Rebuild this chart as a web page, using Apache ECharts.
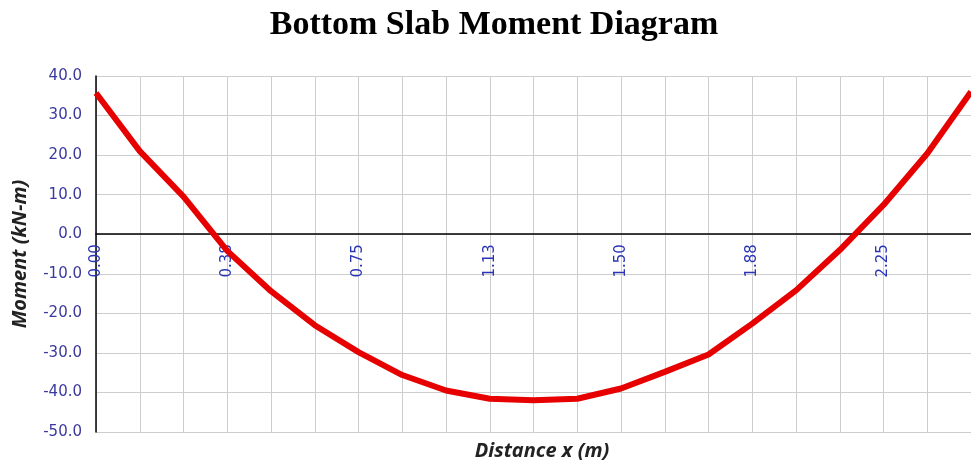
<!DOCTYPE html>
<html>
<head>
<meta charset="utf-8">
<script src="https://cdn.jsdelivr.net/npm/echarts@6/dist/echarts.min.js"></script>
<style>
  html, body { margin: 0; padding: 0; background: #fff; }
  #myChart { width: 971px; height: 468px; }
</style>
</head>
<body>
<div id="myChart"></div>
<script>
// distance along slab (m) and bending moment (kN-m)
var distance = [0, 0.125, 0.25, 0.375, 0.5, 0.625, 0.75, 0.875, 1.0, 1.125, 1.25,
                1.375, 1.5, 1.625, 1.75, 1.875, 2.0, 2.125, 2.25, 2.375, 2.5]
var moment = [35.7, 21.0, 9.5, -4.2, -14.4, -23.0, -29.8, -35.6, -39.5, -41.6, -42.0,
              -41.6, -39.0, -34.8, -30.4, -22.6, -14.2, -4.0, 7.4, 20.4, 36.0]
var xTickLabels = ['0.00', '0.38', '0.75', '1.13', '1.50', '1.88', '2.25']

var points = distance.map(function (d, i) { return [d, moment[i]] })

var gridTop = 76, gridBottom = 36, chartH = 468
var yMin = -50, yMax = 40
// shift the x axis (line + labels) up to the zero line
var zeroY = gridTop + (yMax / (yMax - yMin)) * (chartH - gridTop - gridBottom)
var xAxisOffset = -((chartH - gridBottom) - zeroY)

var myChart = echarts.init(document.getElementById('myChart'))
myChart.setOption({
    animation: false,
    backgroundColor: '#fff',
    title: [{
        text: 'Bottom Slab Moment Diagram',
        left: 489,
        top: 3,
        textAlign: 'center',
        textStyle: { fontFamily: 'Liberation Serif', fontWeight: 'bold', fontSize: 34, color: '#000' }
    }, {
        text: 'Distance x (m)',
        left: 537,
        top: 436,
        textAlign: 'center',
        textStyle: { fontFamily: 'Open Sans', fontWeight: 'bold', fontStyle: 'italic', fontSize: 20, color: '#222' }
    }],
    grid: { left: 96, right: -9, top: gridTop, bottom: gridBottom },
    xAxis: {
        type: 'value',
        min: 0,
        max: 2.5,
        interval: 0.125,
        offset: xAxisOffset,
        axisLine: { onZero: false, lineStyle: { color: '#000', width: 1.5 } },
        axisTick: { show: false },
        splitLine: { show: true, lineStyle: { color: '#cdcdcd', width: 1 } },
        axisLabel: {
            rotate: 90,
            margin: 10,
            fontFamily: 'DejaVu Sans',
            fontSize: 15,
            color: '#2a35b5',
            formatter: function (v) {
                var idx = Math.round(v / 0.125)
                if (idx % 3 !== 0) return ''
                return xTickLabels[idx / 3] || ''
            }
        }
    },
    yAxis: {
        type: 'value',
        min: yMin,
        max: yMax,
        interval: 10,
        name: 'Moment (kN-m)',
        nameLocation: 'middle',
        nameGap: 66,
        nameTextStyle: { fontFamily: 'Open Sans', fontWeight: 'bold', fontStyle: 'italic', fontSize: 20, color: '#222' },
        axisLine: { show: true, onZero: false, lineStyle: { color: '#000', width: 1.5 } },
        axisTick: { show: false },
        splitLine: { show: true, lineStyle: { color: '#cdcdcd', width: 1 } },
        axisLabel: {
            margin: 14,
            fontFamily: 'DejaVu Sans',
            fontSize: 15,
            color: '#3a3a9e',
            formatter: function (v) { return v.toFixed(1) }
        }
    },
    series: [{
        type: 'line',
        data: points,
        showSymbol: false,
        lineStyle: { color: '#e60000', width: 6 },
        z: 5
    }]
})
</script>
</body>
</html>
